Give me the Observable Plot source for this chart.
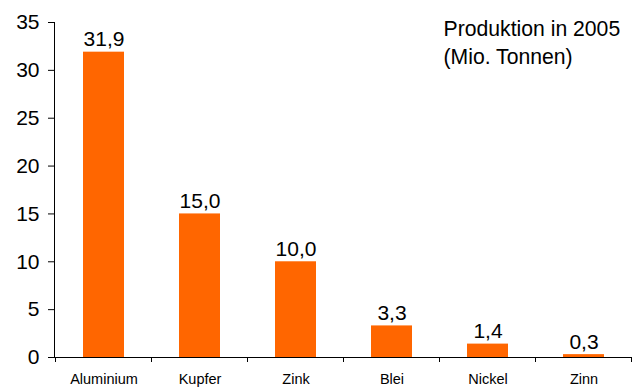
<!DOCTYPE html>
<html>
<head>
<meta charset="utf-8">
<script src="https://cdn.jsdelivr.net/npm/d3@7"></script>
<script src="https://cdn.jsdelivr.net/npm/@observablehq/plot@0.6"></script>
<style>
  html, body { margin: 0; padding: 0; background: #fff; }
  #chart { width: 639px; height: 390px; }
</style>
</head>
<body>
<div id="chart"></div>
<script>
// Metal production 2005, million tonnes
const metals = ["Aluminium", "Kupfer", "Zink", "Blei", "Nickel", "Zinn"];
const production = [31.9, 15.0, 10.0, 3.3, 1.4, 0.3];
const yTicks = [0, 5, 10, 15, 20, 25, 30, 35];
const titleLines = ["Produktion in 2005", "(Mio. Tonnen)"];

const data = metals.map((m, i) => ({metal: m, value: production[i]}));
const fmt = v => v.toFixed(1).replace(".", ",");
const font = "'Liberation Sans', Arial, sans-serif";

const plot = Plot.plot({
  width: 639,
  height: 390,
  marginLeft: 54,
  marginRight: 7,
  marginTop: 22,
  marginBottom: 33,
  style: {fontFamily: font, color: "#000", background: "#fff"},
  x: {domain: metals, paddingInner: 0.575, paddingOuter: 0.2875, label: null},
  y: {domain: [0, 35], label: null},
  marks: [
    Plot.barY(data, {x: "metal", y: "value", fill: "#FF6600"}),
    Plot.text(data, {
      x: "metal", y: "value", text: d => fmt(d.value),
      lineAnchor: "bottom", dy: -6, fontSize: 21, fill: "#000"
    }),
    Plot.axisY(yTicks, {
      tickSize: 6, tickPadding: 9, fontSize: 21, stroke: "#000", strokeOpacity: 1
    }),
    Plot.axisX({tickSize: 0, tickPadding: 16, fontSize: 14.5}),
    Plot.ruleY([0], {stroke: "#000"}),
    Plot.frame({anchor: "left", stroke: "#000"}),
    Plot.text([titleLines.join("\n")], {
      frameAnchor: "top-left", textAnchor: "start", lineAnchor: "top",
      dx: 389, dy: -7, fontSize: 21.2, lineHeight: 1.33, fill: "#000"
    })
  ]
});

// category separator ticks beneath the baseline, at band boundaries
const xs = plot.scale("x");
const ys = plot.scale("y");
const half = (xs.step - xs.bandwidth) / 2;
const bounds = metals.map(m => xs.apply(m) - half);
bounds.push(xs.apply(metals[metals.length - 1]) + xs.bandwidth + half);
const y0 = ys.apply(0);
d3.select(plot).append("g")
  .attr("stroke", "#000")
  .selectAll("line")
  .data(bounds)
  .join("line")
  .attr("x1", d => d).attr("x2", d => d)
  .attr("y1", y0).attr("y2", y0 + 5);

document.getElementById("chart").appendChild(plot);
</script>
</body>
</html>
